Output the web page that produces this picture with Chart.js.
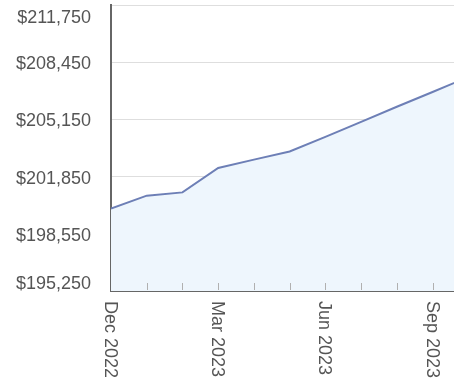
<!DOCTYPE html>
<html>
<head>
<meta charset="utf-8">
<script src="https://cdn.jsdelivr.net/npm/chart.js@4"></script>
<style>
    body { margin: 0; background: #fff; overflow: hidden; }
    canvas { display: block; }
</style>
</head>
<body>
<canvas id="balanceChart" width="454" height="379"></canvas>
<script>
// Chart data
const months = ['Dec 2022', 'Jan 2023', 'Feb 2023', 'Mar 2023', 'Apr 2023', 'May 2023',
    'Jun 2023', 'Jul 2023', 'Aug 2023', 'Sep 2023', 'Oct 2023'];
const balances = [200000, 200750, 200940, 202350, 202830, 203300,
    204140, 205010, 205880, 206730, 207600];
const yTicks = [195250, 198550, 201850, 205150, 208450, 211750];
const xLabelEvery = 3;

const FONT = '18px "Liberation Sans", Arial, sans-serif';

// Draws the axis labels (x labels read top to bottom) and the inner tick marks
const axisLabels = {
    id: 'axisLabels',
    afterDraw(chart) {
        const ctx = chart.ctx;
        const area = chart.chartArea;
        const xs = chart.scales.x;
        const ys = chart.scales.y;

        ctx.save();
        ctx.font = FONT;
        ctx.fillStyle = '#555';

        // y labels, the outer ones are kept inside the plot
        ctx.textAlign = 'right';
        ctx.textBaseline = 'middle';
        ys.ticks.forEach(t => {
            let y = ys.getPixelForValue(t.value) + 2;
            y = Math.max(area.top + 13, Math.min(area.bottom - 7, y));
            ctx.fillText('$' + t.value.toLocaleString('en-US'), area.left - 20, y);
        });

        // monthly tick marks
        ctx.strokeStyle = '#b0b0b0';
        ctx.lineWidth = 1;
        for (let i = 1; i < months.length; i++) {
            const x = Math.round(xs.getPixelForValue(i)) + 0.5;
            if (x > area.right) break;
            ctx.beginPath();
            ctx.moveTo(x, area.bottom - 1);
            ctx.lineTo(x, area.bottom - 8);
            ctx.stroke();
        }

        // quarterly labels
        ctx.textAlign = 'left';
        months.forEach((m, i) => {
            if (i % xLabelEvery !== 0) return;
            const x = xs.getPixelForValue(i);
            if (x > area.right) return;
            ctx.save();
            ctx.translate(x - 1, area.bottom + 10);
            ctx.rotate(Math.PI / 2);
            ctx.fillText(m, 0, 0);
            ctx.restore();
        });
        ctx.restore();
    }
};

const ctx = document.getElementById('balanceChart').getContext('2d');

const balanceChart = new Chart(ctx, {
    type: 'line',
    data: {
        datasets: [{
            data: balances.map((v, i) => ({ x: i, y: v })),
            borderColor: '#6d7fb6',
            borderWidth: 2,
            backgroundColor: '#eef6fd',
            fill: 'start',
            pointRadius: 0,
            tension: 0
        }]
    },
    options: {
        responsive: false,
        animation: false,
        layout: {
            padding: { top: 5, right: 0, left: 0, bottom: 0 }
        },
        plugins: {
            legend: { display: false },
            tooltip: { enabled: false }
        },
        scales: {
            x: {
                type: 'linear',
                min: 0,
                max: 9.6,
                ticks: { display: false, stepSize: 1 },
                grid: { drawOnChartArea: false, drawTicks: false },
                border: { color: '#666', width: 2 },
                afterFit: function (scale) {
                    scale.height = 88;
                }
            },
            y: {
                min: yTicks[0],
                max: yTicks[yTicks.length - 1],
                ticks: { display: false },
                afterBuildTicks: function (scale) {
                    scale.ticks = yTicks.map(v => ({ value: v }));
                },
                grid: { color: '#dedede', drawTicks: false },
                border: { color: '#666', width: 2 },
                afterFit: function (scale) {
                    scale.width = 111;
                }
            }
        }
    },
    plugins: [axisLabels]
});
</script>
</body>
</html>
